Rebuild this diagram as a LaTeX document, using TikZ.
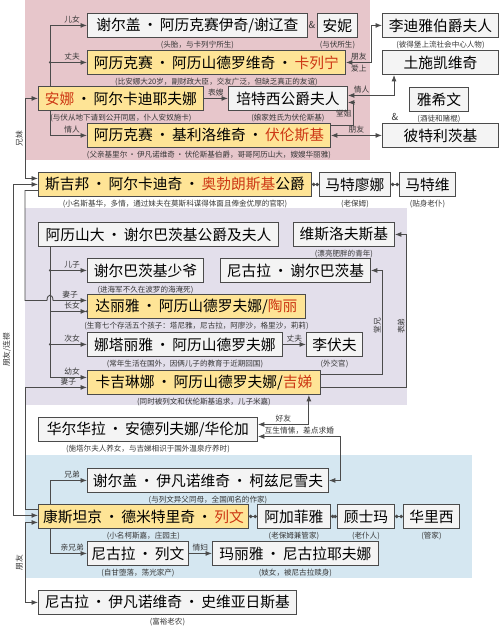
\documentclass[tikz,border=0pt]{standalone}
\usepackage{fontspec}
\setmainfont{Noto Sans CJK SC}
\usetikzlibrary{calc,arrows.meta,positioning}
\definecolor{annaColor}{RGB}{231,198,203}
\definecolor{kittyColor}{RGB}{227,223,235}
\definecolor{levinColor}{RGB}{213,231,241}
\definecolor{heroColor}{RGB}{254,228,150}
\definecolor{boxColor}{RGB}{244,244,244}
\definecolor{lineColor}{RGB}{75,75,75}
\definecolor{nameRed}{RGB}{205,55,20}
\definecolor{noteColor}{RGB}{55,55,55}
\newcommand{\boxfont}{\fontsize{8.4}{10}\selectfont}
\newcommand{\notefont}{\fontsize{4.3}{5}\selectfont}
\newcommand{\relfont}{\fontsize{4.4}{5}\selectfont}
\newcommand{\hl}[1]{\textcolor{nameRed}{#1}}
\newcommand{\dt}{\makebox[1.3em]{·}}

\begin{document}
\begin{tikzpicture}[x=0.2mm, y=-0.2mm,
    person/.style={draw=lineColor, line width=0.5pt, fill=boxColor, anchor=north west, minimum height=4.8mm, inner sep=0pt, font=\boxfont},
    hero/.style={person, fill=heroColor},
    bw/.style={minimum width=#1*0.2mm},
    note/.style={font=\notefont, text=noteColor, inner sep=0pt},
    rel/.style={font=\relfont, text=noteColor, inner sep=1pt},
    arr/.style={-{Latex[length=1.3mm,width=1mm]}, lineColor, line width=0.5pt},
    darr/.style={{Latex[length=1.3mm,width=1mm]}-{Latex[length=1.3mm,width=1mm]}, lineColor, line width=0.5pt},
    dotlink/.style={{Circle[length=0.7mm]}-{Circle[length=0.7mm]}, lineColor, line width=0.5pt},
    node distance=0.5mm
  ]
  \useasboundingbox (0,0) rectangle (500,627);

  % family blocks
  \fill[annaColor] (25,0) rectangle (370,160);
  \fill[kittyColor] (25,208) rectangle (407,405);
  \fill[levinColor] (25,455) rectangle (472,578);

  \coordinate (annaBus) at (50,0);
  \coordinate (shchBus) at (50,0);
  \coordinate (levinBus) at (50,0);

  % Karenin / Anna
  \node[person, bw=220] (seryozha) at (87,13) {谢尔盖\dt 阿历克赛伊奇/谢辽查};
  \node[note, below=of seryozha] (seryozhaNote) {(头胎，与卡列宁所生)};
  \node[rel, font=\fontsize{5.5}{6}\selectfont] (amp1) at (312,25) {\&};
  \node[person, bw=40] (anya) at (317,13) {安妮};
  \node[note, below=of anya] (anyaNote) {(与伏所生)};
  \node[person, bw=116] (lidia) at (382,13) {李迪雅伯爵夫人};
  \node[note, below=of lidia] (lidiaNote) {(彼得堡上流社会中心人物)};

  \node[hero, bw=258] (karenin) at (87,50) {阿历克赛\dt 阿历山德罗维奇\dt\hl{卡列宁}};
  \node[note, below=of karenin] (kareninNote) {(比安娜大20岁，副财政大臣，交友广泛，但缺乏真正的友谊)};
  \node[person, bw=116] (tushkevich) at (382,50) {土施凯维奇};

  \node[hero, bw=165] (anna) at (38,86) {\hl{安娜}\dt 阿尔卡迪耶夫娜};
  \node[note, below=of anna] (annaNote) {(与伏从地下请到公开同居，仆人安奴施卡)};
  \node[person, bw=119] (betsy) at (228,86) {培特西公爵夫人};
  \node[note, below=of betsy] (betsyNote) {(娘家姓氏为伏伦斯基)};
  \node[person, bw=59] (yashvin) at (409,87) {雅希文};
  \node[note, below=of yashvin] (yashvinNote) {(酒徒和赌棍)};
  \node[rel, font=\fontsize{5.5}{6}\selectfont] (amp2) at (395,117) {\&};

  \node[hero, bw=243] (vronsky) at (87,123) {阿历克赛\dt 基利洛维奇\dt\hl{伏伦斯基}};
  \node[note, below=of vronsky] (vronskyNote) {(父亲基里尔\dt 伊凡诺维奇\dt 伏伦斯基伯爵，哥哥阿历山大，嫂嫂华丽雅)};
  \node[person, bw=116] (petritsky) at (382,123) {彼特利茨基};

  % Oblonsky
  \node[hero, bw=273] (skiba) at (38,172) {斯吉邦\dt 阿尔卡迪奇\dt\hl{奥勃朗斯基}公爵};
  \node[note, below=of skiba] (skibaNote) {(小名斯基华，多情，通过妹夫在莫斯科谋得体面且俸金优厚的官职)};
  \node[person, bw=71] (matryona) at (319,172) {马特廖娜};
  \node[note, below=of matryona] (matryonaNote) {(老保姆)};
  \node[person, bw=56] (matvey) at (399,172) {马特维};
  \node[note, below=of matvey] (matveyNote) {(贴身老仆)};

  % Shcherbatsky
  \node[person, bw=240] (alex) at (38,222) {阿历山大\dt 谢尔巴茨基公爵及夫人};
  \node[person, bw=101] (vesl) at (293,222) {维斯洛夫斯基};
  \node[note, below=of vesl] (veslNote) {(漂亮肥胖的青年)};
  \node[person, bw=116] (sonS) at (87,258) {谢尔巴茨基少爷};
  \node[note, below=of sonS] (sonSNote) {(进海军不久在波罗的海淹死)};
  \node[person, bw=150] (nikS) at (220,258) {尼古拉\dt 谢尔巴茨基};
  \node[hero, bw=218] (dolly) at (87,294) {达丽雅\dt 阿历山德罗夫娜/\hl{陶丽}};
  \node[note, below=of dolly] (dollyNote) {(生育七个存活五个孩子：塔尼雅，尼古拉，阿廖沙，格里沙，莉莉)};
  \node[person, bw=195] (natalia) at (87,332) {娜塔丽雅\dt 阿历山德罗夫娜};
  \node[note, below=of natalia] (nataliaNote) {(常年生活在国外，因俩儿子的教育于近期回国)};
  \node[person, bw=56] (lvov) at (306,332) {李伏夫};
  \node[note, below=of lvov] (lvovNote) {(外交官)};
  \node[hero, bw=233] (kitty) at (87,370) {卡吉琳娜\dt 阿历山德罗夫娜/\hl{吉娣}};
  \node[note, below=of kitty] (kittyNote) {(同时被列文和伏伦斯基追求，儿子米嘉)};

  \node[person, bw=219] (varenka) at (38,417) {华尔华拉\dt 安德列夫娜/华伦加};
  \node[note, below=of varenka] (varenkaNote) {(施塔尔夫人养女，与吉娣相识于国外温泉疗养时)};

  % Levin
  \node[person, bw=241] (koz) at (87,468) {谢尔盖\dt 伊凡诺维奇\dt 柯兹尼雪夫};
  \node[note, below=of koz] (kozNote) {(与列文异父同母，全国闻名的作家)};
  \node[hero, bw=210] (levin) at (38,504) {康斯坦京\dt 德米特里奇\dt\hl{列文}};
  \node[note, below=of levin] (levinNote) {(小名柯斯嘉，庄园主)};
  \node[person, bw=73] (agafya) at (257,504) {阿加菲雅};
  \node[note, below=of agafya] (agafyaNote) {(老保姆兼管家)};
  \node[person, bw=57] (kuzma) at (337,504) {顾士玛};
  \node[note, below=of kuzma] (kuzmaNote) {(老仆人)};
  \node[person, bw=56] (vasily) at (403,504) {华里西};
  \node[note, below=of vasily] (vasilyNote) {(管家)};
  \node[person, bw=101] (nikL) at (87,541) {尼古拉\dt 列文};
  \node[note, below=of nikL] (nikLNote) {(自甘堕落，荡光家产)};
  \node[person, bw=166] (maria) at (212,541) {玛丽雅\dt 尼古拉耶夫娜};
  \node[note, below=of maria] (mariaNote) {(妓女，被尼古拉赎身)};

  \node[person, bw=258] (sviy) at (38,590) {尼古拉\dt 伊凡诺维奇\dt 史维亚日斯基};
  \node[note, below=of sviy] (sviyNote) {(富裕老农)};

  % Anna's ties
  \draw[arr] (anna.north -| annaBus) |- (seryozha.west) node[rel, above, pos=0.8] {儿女};
  \draw[arr] (anna.north -| annaBus) |- (karenin.west) node[rel, above, pos=0.8] {丈夫};
  \draw[arr] (anna.south -| annaBus) |- (vronsky.west) node[rel, above, pos=0.8] {情人};
  \fill[lineColor] (karenin.west -| annaBus) circle (0.7pt);
  \draw[arr] (anna.east) -- (betsy.west) node[rel, above, midway] {表嫂};
  \draw[darr] (karenin.east) -- ++(26,0) node[rel, above, midway] {朋友} node[rel, below, midway] {爱上} |- (lidia.west);
  \draw[darr] ($(betsy.east)+(0,-3)$) -| ($(tushkevich.south west)+(12,0)$) node[rel, above, pos=0.15] {情人};
  \draw[arr] ($(vronsky.east)+(0,-10)$) -- ++(23,0) |- ($(betsy.east)+(0,4)$) node[rel, left, pos=0.25] {堂姐};
  \draw[darr] (vronsky.east) -- (petritsky.west) node[rel, above, midway] {朋友};

  % Oblonsky ties
  \draw[darr] (anna.west) -- ++(-13,0) |- ($(skiba.west)+(0,-6)$) node[rel, rotate=90, anchor=south, pos=0.25] {兄妹};
  \draw[arr] ($(skiba.west)+(0,6)$) -| ($(dolly.west)+(-62,-6)$) -- ($(dolly.west)+(-40,-6)$)
    .. controls +(0,-7) and +(0,-7) .. ($(dolly.west)+(-34,-6)$) -- ($(dolly.west)+(0,-6)$) node[rel, above, midway] {妻子};
  \draw[darr] (skiba.west) -- ++(-25,0) |- ($(levin.west)+(0,-1)$) node[rel, rotate=90, anchor=south, pos=0.25] {朋友/连襟};
  \draw[dotlink] (skiba.east) -- (matryona.west);
  \draw[dotlink] (matryona.east) -- (matvey.west);

  % Shcherbatsky ties
  \draw[arr] (alex.south -| shchBus) |- (sonS.west) node[rel, above, pos=0.8] {儿子};
  \draw[arr] (alex.south -| shchBus) |- ($(dolly.west)+(0,5)$) node[rel, above, pos=0.8] {长女};
  \draw[arr] (alex.south -| shchBus) |- (natalia.west) node[rel, above, pos=0.8] {次女};
  \draw[arr] (alex.south -| shchBus) |- ($(kitty.west)+(0,-5)$) node[rel, above, pos=0.8] {幼女};
  \fill[lineColor] (sonS.west -| shchBus) circle (0.7pt);
  \fill[lineColor] ($(dolly.west)+(0,5)$ -| shchBus) circle (0.7pt);
  \fill[lineColor] (natalia.west -| shchBus) circle (0.7pt);
  \draw[arr] (natalia.east) -- (lvov.west) node[rel, above, midway] {丈夫};
  \draw[arr] ($(kitty.east)+(0,-8)$) -- ++(62,0) |- (nikS.east) node[rel, rotate=90, anchor=south, pos=0.235] {堂兄};
  \draw[arr] ($(kitty.east)+(0,5)$) -- ++(86,0) |- (vesl.east) node[rel, rotate=90, anchor=south, pos=0.2] {表弟};
  \draw[darr] ($(kitty.south east)+(-12,0)$) |- ($(varenka.east)+(0,-5)$) node[rel, above, pos=0.75] {好友};
  \draw[darr] (koz.east) -- ++(12,0) |- ($(varenka.east)+(0,7)$) node[rel, above, pos=0.75] {互生情愫，差点求婚};

  % Levin ties
  \draw[arr] ($(levin.west)+(0,-7)$) -- ++(-13,0) |- ($(kitty.west)+(0,5)$) node[rel, above, pos=0.85] {妻子};
  \draw[darr] ($(levin.west)+(0,6)$) -- ++(-13,0) |- (sviy.west) node[rel, rotate=90, anchor=south, pos=0.25] {朋友};
  \draw[arr] (levin.north -| levinBus) |- (koz.west) node[rel, above, pos=0.8] {兄弟};
  \draw[arr] (levin.south -| levinBus) |- (nikL.west) node[rel, above, pos=0.8] {亲兄弟};
  \draw[arr] (nikL.east) -- (maria.west) node[rel, above, midway] {情妇};
  \draw[dotlink] (levin.east) -- (agafya.west);
  \draw[dotlink] (agafya.east) -- (kuzma.west);
  \draw[dotlink] (kuzma.east) -- (vasily.west);
\end{tikzpicture}
\end{document}
